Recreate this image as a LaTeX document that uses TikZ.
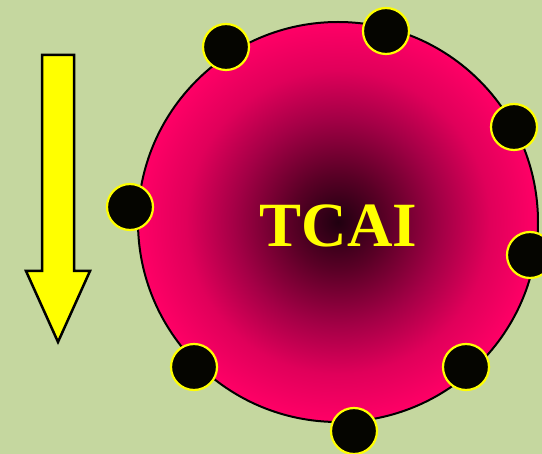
\documentclass[tikz,border=0pt]{standalone}
\usepackage{fontspec}
\setmainfont{Liberation Serif}
\definecolor{bg}{HTML}{C5D79F}
\definecolor{tcpink}{HTML}{FF0066}
\definecolor{tcc0}{HTML}{200010}
\definecolor{tcc1}{HTML}{5A0026}
\definecolor{tcc2}{HTML}{A40046}
\definecolor{tcc3}{HTML}{E0005A}
\definecolor{dotfill}{HTML}{050500}
\definecolor{tcyellow}{HTML}{FFFF00}
\pgfdeclareradialshading{tcairad}{\pgfpoint{0bp}{0bp}}{%
  color(0bp)=(tcc0); color(6bp)=(tcc1); color(13bp)=(tcc2);
  color(19bp)=(tcc3); color(25bp)=(tcpink); color(50bp)=(tcpink)}
\tikzset{
  core/.style={circle, draw=black, line width=2pt, minimum size=400pt,
    inner sep=0pt, shading=tcairad},
  title/.style={text=tcyellow, inner sep=0pt, anchor=base,
    font=\bfseries\fontsize{63}{63}\selectfont},
  dot/.style={circle, draw=tcyellow, line width=2.2pt, fill=dotfill,
    minimum size=46pt, inner sep=0pt},
  bigarrow/.style={draw=black, line width=2.5pt, fill=tcyellow, line join=miter}
}
\begin{document}
\begin{tikzpicture}[x=1pt, y=-1pt]
\useasboundingbox (0,0) rectangle (542,454);
\fill[bg] (0,0) rectangle (542,454);
\node[core] (c) at (338,222) {};
\node[title] (t) at (338.5,247) {TCAI};
\node[dot] (d1) at (226,47) {};
\node[dot] (d2) at (386,31) {};
\node[dot] (d3) at (514,127) {};
\node[dot] (d4) at (130,207) {};
\node[dot] (d5) at (530,255) {};
\node[dot] (d6) at (194,367) {};
\node[dot] (d7) at (466,367) {};
\node[dot] (d8) at (354,431) {};
\draw[bigarrow] (42,55) -- (74,55) -- (74,271) -- (90,271) -- (58,342)
  -- (26,271) -- (42,271) -- cycle;
\end{tikzpicture}
\end{document}
